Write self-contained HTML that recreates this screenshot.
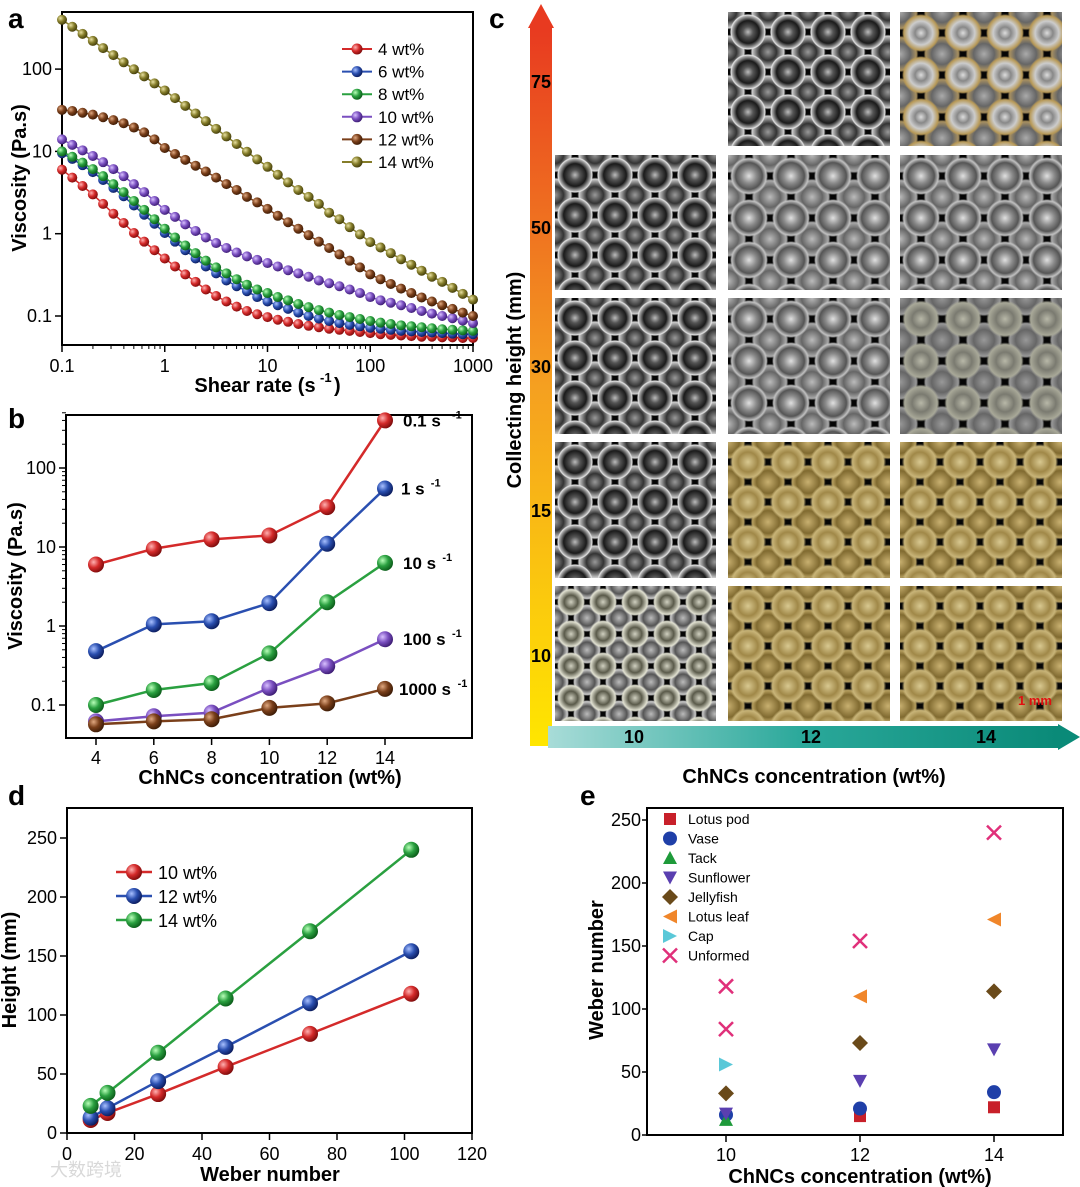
<!DOCTYPE html>
<html><head><meta charset="utf-8">
<style>
html,body{margin:0;padding:0;background:#fff;}
#wrap{position:relative;width:1080px;height:1187px;overflow:hidden;font-family:"Liberation Sans",Arial,sans-serif;}
svg{position:absolute;left:0;top:0;}
.tile{position:absolute;background-color:#050505;}
.silver{background-image:radial-gradient(circle,#bbbbbb 0,#555 18%,#1a1a1a 40%,#aaaaaa 56%,#e4e4e4 60%,transparent 64%),radial-gradient(circle,#999 0,#333 30%,#ccc 56%,transparent 62%);background-size:40px 40px,40px 40px;background-position:0 0,20px 20px;}
.silver2{background-image:radial-gradient(circle,#e0e0e0 0,#8a8a8a 25%,#555 45%,#c0c0c0 58%,transparent 64%),radial-gradient(circle,#bbb 0,#666 35%,#aaa 55%,transparent 62%);background-size:42px 42px,42px 42px;background-position:0 0,21px 21px;}
.silver3{background-image:radial-gradient(circle,#b8b8a8 0,#7a7a70 30%,#a8a898 55%,transparent 63%),radial-gradient(circle,#999 0,#666 35%,#999 55%,transparent 62%);background-size:42px 42px,42px 42px;background-position:0 0,21px 21px;}
.gold{background-image:radial-gradient(circle,#d8c890 0,#a08848 35%,#c8b478 55%,transparent 64%),radial-gradient(circle,#c8b070 0,#806a30 40%,#b8a060 55%,transparent 62%);background-size:40px 40px,40px 40px;background-position:0 0,20px 20px;}
.light{background-image:radial-gradient(circle,#d0d0c0 0,#5a5a4a 30%,#e0e0d0 55%,transparent 62%),radial-gradient(circle,#bbb 0,#555 35%,#ccc 55%,transparent 62%);background-size:32px 32px,32px 32px;background-position:0 0,16px 16px;}
</style></head>
<body>
<div id="wrap">
<svg id="root" width="1080" height="1187" viewBox="0 0 1080 1187">
<defs>
<radialGradient id="g-red" cx="35%" cy="35%" r="70%"><stop offset="0" stop-color="#ffb0b0"/><stop offset="0.5" stop-color="#d42a2a"/><stop offset="1" stop-color="#7a0a0a"/></radialGradient>
<radialGradient id="g-blue" cx="35%" cy="35%" r="70%"><stop offset="0" stop-color="#a8c0ff"/><stop offset="0.5" stop-color="#2a4fb0"/><stop offset="1" stop-color="#0a1a5a"/></radialGradient>
<radialGradient id="g-green" cx="35%" cy="35%" r="70%"><stop offset="0" stop-color="#b8ffb8"/><stop offset="0.5" stop-color="#2aa040"/><stop offset="1" stop-color="#0a5a18"/></radialGradient>
<radialGradient id="g-purple" cx="35%" cy="35%" r="70%"><stop offset="0" stop-color="#d8c0ff"/><stop offset="0.5" stop-color="#7a4fc0"/><stop offset="1" stop-color="#3a1a70"/></radialGradient>
<radialGradient id="g-brown" cx="35%" cy="35%" r="70%"><stop offset="0" stop-color="#e0a880"/><stop offset="0.5" stop-color="#7a3f1a"/><stop offset="1" stop-color="#3a1a05"/></radialGradient>
<radialGradient id="g-olive" cx="35%" cy="35%" r="70%"><stop offset="0" stop-color="#e8e0a0"/><stop offset="0.5" stop-color="#857d2a"/><stop offset="1" stop-color="#403a0a"/></radialGradient>
<linearGradient id="g-varrow" x1="0" y1="1" x2="0" y2="0"><stop offset="0" stop-color="#ffe600"/><stop offset="0.5" stop-color="#f5a020"/><stop offset="1" stop-color="#e83a20"/></linearGradient>
<linearGradient id="g-harrow" x1="0" y1="0" x2="1" y2="0"><stop offset="0" stop-color="#a8dcd8"/><stop offset="0.5" stop-color="#2aa89a"/><stop offset="1" stop-color="#0a8a78"/></linearGradient>
</defs>
</svg>
<div class="tile silver" style="left:728px;top:12px;width:162px;height:134px"></div>
<div class="tile silver2" style="left:900px;top:12px;width:162px;height:134px;background-image:radial-gradient(circle,#ddd 0,#888 20%,#ccc 40%,#b89a58 58%,transparent 64%),radial-gradient(circle,#aaa 0,#666 35%,#a89060 55%,transparent 62%)"></div>
<div class="tile silver" style="left:555px;top:155px;width:161px;height:135px"></div>
<div class="tile silver2" style="left:728px;top:155px;width:162px;height:135px"></div>
<div class="tile silver2" style="left:900px;top:155px;width:162px;height:135px"></div>
<div class="tile silver" style="left:555px;top:298px;width:161px;height:136px"></div>
<div class="tile silver2" style="left:728px;top:298px;width:162px;height:136px"></div>
<div class="tile silver3" style="left:900px;top:298px;width:162px;height:136px"></div>
<div class="tile silver" style="left:555px;top:442px;width:161px;height:136px"></div>
<div class="tile gold" style="left:728px;top:442px;width:162px;height:136px"></div>
<div class="tile gold" style="left:900px;top:442px;width:162px;height:136px"></div>
<div class="tile light" style="left:555px;top:586px;width:161px;height:135px"></div>
<div class="tile gold" style="left:728px;top:586px;width:162px;height:135px"></div>
<div class="tile gold" style="left:900px;top:586px;width:162px;height:135px"></div>
<div style="position:absolute;left:1018px;top:693px;color:#e01010;font-weight:bold;font-size:13px">1 mm</div>
</div>
<script>
const NS='http://www.w3.org/2000/svg';
const root=document.getElementById('root');
function el(tag,attrs,parent){const e=document.createElementNS(NS,tag);for(const k in attrs)e.setAttribute(k,attrs[k]);(parent||root).appendChild(e);return e;}
function txt(s,x,y,size,opts){opts=opts||{};const t=el('text',{x:x,y:y,'font-size':size,'font-family':'"Liberation Sans",Arial,sans-serif','font-weight':opts.bold?'bold':'normal','text-anchor':opts.anchor||'start',fill:opts.fill||'#000'});if(opts.rot)t.setAttribute('transform','rotate(-90 '+x+' '+y+')');t.textContent=s;return t;}

// ---------- Panel a data ----------
const aShear=[];for(let i=0;i<=40;i++)aShear.push(Math.pow(10,-1+i/10));
const aLabels=['4 wt%','6 wt%','8 wt%','10 wt%','12 wt%','14 wt%'];
const a4=[6,4.8,3.8,3.0,2.3,1.75,1.35,1.02,0.8,0.63,0.5,0.4,0.32,0.26,0.21,0.175,0.15,0.13,0.115,0.105,0.097,0.09,0.085,0.08,0.076,0.073,0.07,0.068,0.066,0.064,0.062,0.06,0.059,0.058,0.057,0.056,0.056,0.055,0.055,0.054,0.054];
const a6=[9.5,8.1,6.8,5.6,4.5,3.6,2.85,2.2,1.7,1.32,1.02,0.8,0.63,0.5,0.4,0.33,0.27,0.23,0.2,0.17,0.15,0.135,0.122,0.11,0.1,0.093,0.087,0.082,0.078,0.075,0.072,0.07,0.068,0.066,0.065,0.064,0.063,0.062,0.061,0.06,0.06];
const a8=[10,8.6,7.3,6.1,5.0,4.0,3.2,2.5,1.95,1.5,1.15,0.9,0.72,0.58,0.47,0.39,0.33,0.28,0.24,0.21,0.19,0.17,0.155,0.14,0.128,0.118,0.11,0.103,0.097,0.092,0.087,0.083,0.08,0.077,0.075,0.073,0.071,0.069,0.068,0.067,0.066];
const a10=[14,12,10.3,8.8,7.4,6.1,5.0,4.0,3.2,2.5,1.95,1.6,1.3,1.08,0.9,0.77,0.67,0.59,0.53,0.48,0.44,0.4,0.36,0.33,0.3,0.27,0.25,0.23,0.21,0.19,0.17,0.155,0.145,0.135,0.125,0.115,0.107,0.1,0.094,0.088,0.082];
const a12=[32,31,29.5,28,26,24,22,19.5,17,14,11,9.3,7.9,6.7,5.7,4.8,4.0,3.4,2.8,2.4,2.0,1.65,1.38,1.15,0.96,0.8,0.67,0.56,0.47,0.39,0.32,0.28,0.245,0.215,0.19,0.168,0.15,0.135,0.122,0.11,0.1];
const a14=[398,327,268,220,180,148,121,99.5,81.7,67,55,44.4,35.8,28.9,23.3,18.8,15.2,12.3,9.9,8.0,6.5,5.2,4.2,3.4,2.8,2.3,1.8,1.5,1.2,0.98,0.79,0.68,0.58,0.49,0.42,0.355,0.30,0.26,0.22,0.186,0.158];
const aSeries=[a4,a6,a8,a10,a12,a14];
const colors=['#d42a2a','#2a4fb0','#2aa040','#7a4fc0','#7a3f1a','#857d2a'];
const grads=['g-red','g-blue','g-green','g-purple','g-brown','g-olive'];
const aXTicks=[0.1,1,10,100,1000];
const aXTickLabels=['0.1','1','10','100','1000'];
const aYTicks=[0.1,1,10,100];
const aYTickLabels=['0.1','1','10','100'];

// ---------- Panel b data ----------
const bConc=[4,6,8,10,12,14];
const bLabels=['0.1 s','1 s','10 s','100 s','1000 s'];
const b01=[6,9.5,12.5,14,32,400];
const b1=[0.48,1.05,1.15,1.95,11,55];
const b10=[0.1,0.155,0.19,0.45,2.0,6.3];
const b100=[0.062,0.072,0.08,0.165,0.31,0.68];
const b1000=[0.057,0.062,0.066,0.092,0.105,0.16];
const bSeries=[b01,b1,b10,b100,b1000];
const bColors=['#d42a2a','#2a4fb0','#2aa040','#7a4fc0','#7a3f1a'];
const bGrads=['g-red','g-blue','g-green','g-purple','g-brown'];
const bXTicks=[4,6,8,10,12,14];
const bYTicks=[0.1,1,10,100];
const bYTickLabels=['0.1','1','10','100'];

// ---------- Panel d data ----------
const dWeber=[7,12,27,47,72,102];
const dLabels=['10 wt%','12 wt%','14 wt%'];
const d10=[11,17,33,56,84,118];
const d12=[13,21,44,73,110,154];
const d14=[23,34,68,114,171,240];
const dSeries=[d10,d12,d14];
const dXTicks=[0,20,40,60,80,100,120];
const dYTicks=[0,50,100,150,200,250];

// ---------- Panel e data ----------
const eNames=['Lotus pod','Vase','Tack','Sunflower','Jellyfish','Lotus leaf','Cap','Unformed'];
const eLotusPodX=[12,14], eLotusPodY=[15,22];
const eVaseX=[10,12,14], eVaseY=[16,21,34];
const eTackX=[10], eTackY=[12];
const eSunX=[10,12,14], eSunY=[17,43,68];
const eJellyX=[10,12,14], eJellyY=[33,73,114];
const eLeafX=[12,14], eLeafY=[110,171];
const eCapX=[10], eCapY=[56];
const eUnfX=[10,10,12,14], eUnfY=[84,118,154,240];
const eXTicks=[10,12,14];
const eYTicks=[0,50,100,150,200,250];

// ---------- scales ----------
const xA=v=>62+(Math.log10(v)+1)*102.75, yA=v=>316-(Math.log10(v)+1)*82.3;
const xB=v=>96+(v-4)*28.9, yB=v=>705-(Math.log10(v)+1)*79;
const xD=v=>67+v*3.375, yD=v=>1133-v*1.18;
const xE=v=>726+(v-10)*67, yE=v=>1135-v*1.26;

let e;
[['a',8,28],['b',8,428],['c',489,28],['d',8,805],['e',580,805]].forEach(p=>{
 e=txt(p[0],p[1],p[2],28,{bold:true});
 
 
});

// ===== Panel a =====
e=el('rect',{x:62,y:12,width:411,height:333,fill:'none',stroke:'#000','stroke-width':2});


aXTicks.forEach((t,i)=>{
 e=el('line',{x1:xA(t),x2:xA(t),y1:345,y2:352,stroke:'#000','stroke-width':1.5});
 
 
 e=txt(aXTickLabels[i],xA(t),372,18,{anchor:'middle'});
 
 
 if(i<aXTicks.length-1)for(let m=2;m<10;m++){
  e=el('line',{x1:xA(t*m),x2:xA(t*m),y1:345,y2:349,stroke:'#000','stroke-width':1});
  
  
 }
});
aYTicks.forEach((t,i)=>{
 e=el('line',{x1:55,x2:62,y1:yA(t),y2:yA(t),stroke:'#000','stroke-width':1.5});
 
 
 e=txt(aYTickLabels[i],52,yA(t)+6,18,{anchor:'end'});
 
 
});
e=txt('Viscosity (Pa.s)',26,178,20,{bold:true,anchor:'middle',rot:true});


e=txt('Shear rate (s',255,392,20,{bold:true,anchor:'middle'});


e=txt('-1',320,382,13,{bold:true});


e=txt(')',334,392,20,{bold:true});


aSeries.forEach((s,k)=>{
 const pts=s.map((v,i)=>xA(aShear[i])+','+yA(v)).join(' ');
 e=el('polyline',{points:pts,fill:'none',stroke:colors[k],'stroke-width':1.5});
 
 
 s.forEach((v,i)=>{
  e=el('circle',{cx:xA(aShear[i]),cy:yA(v),r:5,fill:'url(#'+grads[k]+')'});
  
  
 });
 const ly=49+k*22.6;
 e=el('line',{x1:342,x2:372,y1:ly,y2:ly,stroke:colors[k],'stroke-width':2});
 
 
 e=el('circle',{cx:357,cy:ly,r:5.5,fill:'url(#'+grads[k]+')'});
 
 
 e=txt(aLabels[k],378,ly+6,17);
 
 
});

// ===== Panel b =====
e=el('rect',{x:66,y:415,width:406,height:323,fill:'none',stroke:'#000','stroke-width':2});


bXTicks.forEach(t=>{
 e=el('line',{x1:xB(t),x2:xB(t),y1:738,y2:745,stroke:'#000','stroke-width':1.5});
 
 
 e=txt(String(t),xB(t),764,18,{anchor:'middle'});
 
 
});
bYTicks.forEach((t,i)=>{
 e=el('line',{x1:59,x2:66,y1:yB(t),y2:yB(t),stroke:'#000','stroke-width':1.5});
 
 
 e=txt(bYTickLabels[i],56,yB(t)+6,18,{anchor:'end'});
 
 
 for(let m=2;m<10;m++){
  if(t*m>500)break;
  e=el('line',{x1:62,x2:66,y1:yB(t*m),y2:yB(t*m),stroke:'#000','stroke-width':1});
  
  
 }
});
e=txt('Viscosity (Pa.s)',22,576,20,{bold:true,anchor:'middle',rot:true});


e=txt('ChNCs concentration (wt%)',270,784,20,{bold:true,anchor:'middle'});


bSeries.forEach((s,k)=>{
 const pts=s.map((v,i)=>xB(bConc[i])+','+yB(v)).join(' ');
 e=el('polyline',{points:pts,fill:'none',stroke:bColors[k],'stroke-width':2.5});
 
 
 s.forEach((v,i)=>{
  e=el('circle',{cx:xB(bConc[i]),cy:yB(v),r:8,fill:'url(#'+bGrads[k]+')'});
  
  
 });
 const last=s[s.length-1];
 const lx=xB(14)+(k===1?16:k===4?14:18), ly=yB(last)+6;
 e=txt(bLabels[k],lx,ly,17,{bold:true});
 
 
 const w=bLabels[k].length*9.6;
 e=txt('-1',lx+w+1,ly-8,11,{bold:true});
 
 
});

// ===== Panel c arrows/labels =====
e=el('rect',{x:530,y:28,width:22,height:718,fill:'url(#g-varrow)'});


e=el('polygon',{points:'541,4 528,28 554,28',fill:'#e83a20'});


e=el('rect',{x:548,y:726,width:510,height:22,fill:'url(#g-harrow)'});


e=el('polygon',{points:'1058,724 1080,737 1058,750',fill:'#0a8a78'});


[['75',88],['50',234],['30',373],['15',517],['10',662]].forEach(p=>{
 e=txt(p[0],541,p[1],18,{bold:true,anchor:'middle'});
 
 
});
[['10',634],['12',811],['14',986]].forEach(p=>{
 e=txt(p[0],p[1],743,18,{bold:true,anchor:'middle'});
 
 
});
e=txt('Collecting height (mm)',521,380,20,{bold:true,anchor:'middle',rot:true});


e=txt('ChNCs concentration (wt%)',814,783,20,{bold:true,anchor:'middle'});



// ===== Panel d =====
e=el('rect',{x:67,y:808,width:405,height:325,fill:'none',stroke:'#000','stroke-width':2});


dXTicks.forEach(t=>{
 e=el('line',{x1:xD(t),x2:xD(t),y1:1133,y2:1140,stroke:'#000','stroke-width':1.5});
 
 
 e=txt(String(t),xD(t),1160,18,{anchor:'middle'});
 
 
});
dYTicks.forEach(t=>{
 e=el('line',{x1:60,x2:67,y1:yD(t),y2:yD(t),stroke:'#000','stroke-width':1.5});
 
 
 e=txt(String(t),57,yD(t)+6,18,{anchor:'end'});
 
 
});
e=txt('Height (mm)',16,970,20,{bold:true,anchor:'middle',rot:true});


e=txt('Weber number',270,1181,20,{bold:true,anchor:'middle'});


const dColors=['#d42a2a','#2a4fb0','#2aa040'], dGrads=['g-red','g-blue','g-green'];
dSeries.forEach((s,k)=>{
 const pts=s.map((v,i)=>xD(dWeber[i])+','+yD(v)).join(' ');
 e=el('polyline',{points:pts,fill:'none',stroke:dColors[k],'stroke-width':2.5});
 
 
 s.forEach((v,i)=>{
  e=el('circle',{cx:xD(dWeber[i]),cy:yD(v),r:8,fill:'url(#'+dGrads[k]+')'});
  
  
 });
 const ly=872+k*24;
 e=el('line',{x1:116,x2:152,y1:ly,y2:ly,stroke:dColors[k],'stroke-width':2.5});
 
 
 e=el('circle',{cx:134,cy:ly,r:8,fill:'url(#'+dGrads[k]+')'});
 
 
 e=txt(dLabels[k],158,ly+7,18);
 
 
});

// ===== Panel e =====
e=el('rect',{x:647,y:808,width:416,height:327,fill:'none',stroke:'#000','stroke-width':2});


eXTicks.forEach(t=>{
 e=el('line',{x1:xE(t),x2:xE(t),y1:1135,y2:1142,stroke:'#000','stroke-width':1.5});
 
 
 e=txt(String(t),xE(t),1161,18,{anchor:'middle'});
 
 
});
eYTicks.forEach(t=>{
 e=el('line',{x1:642,x2:647,y1:yE(t),y2:yE(t),stroke:'#000','stroke-width':1.5});
 
 
 e=txt(String(t),641,yE(t)+6,18,{anchor:'end'});
 
 
});
e=txt('Weber number',603,970,20,{bold:true,anchor:'middle',rot:true});


e=txt('ChNCs concentration (wt%)',860,1183,20,{bold:true,anchor:'middle'});


function marker(type,x,y,c){
 const s=7;let m;
 if(type==='sq')m=el('rect',{x:x-s+1,y:y-s+1,width:2*s-2,height:2*s-2,fill:c});
 else if(type==='ci')m=el('circle',{cx:x,cy:y,r:s,fill:c});
 else if(type==='up')m=el('polygon',{points:`${x},${y-s} ${x-s},${y+s-1} ${x+s},${y+s-1}`,fill:c});
 else if(type==='dn')m=el('polygon',{points:`${x-s},${y-s+1} ${x+s},${y-s+1} ${x},${y+s}`,fill:c});
 else if(type==='di')m=el('polygon',{points:`${x},${y-s-1} ${x+s+1},${y} ${x},${y+s+1} ${x-s-1},${y}`,fill:c});
 else if(type==='lt')m=el('polygon',{points:`${x-s},${y} ${x+s},${y-s} ${x+s},${y+s}`,fill:c});
 else if(type==='rt')m=el('polygon',{points:`${x+s},${y} ${x-s},${y-s} ${x-s},${y+s}`,fill:c});
 else m=el('path',{d:`M${x-s},${y-s}L${x+s},${y+s}M${x+s},${y-s}L${x-s},${y+s}`,stroke:c,'stroke-width':2.5});
 return m;
}
const eGroups=[
 ['sq','#c8202a',eLotusPodX,eLotusPodY],['ci','#1f3fa8',eVaseX,eVaseY],['up','#1e9a3a',eTackX,eTackY],
 ['dn','#5a3fb0',eSunX,eSunY],['di','#6a4a1a',eJellyX,eJellyY],['lt','#f0862a',eLeafX,eLeafY],
 ['rt','#5ac8d8',eCapX,eCapY],['x','#e0307a',eUnfX,eUnfY]];
eGroups.forEach((g,k)=>{
 g[2].forEach((xv,i)=>{
  e=marker(g[0],xE(xv),yE(g[3][i]),g[1]);
  
  
 });
 const ly=819+k*19.5;
 e=marker(g[0],670,ly,g[1]);
 
 
 e=txt(eNames[k],688,ly+5,14);
 
 
});

e=txt('大数跨境',50,1176,18,{fill:'#d8d8d8'});
e.setAttribute('font-family','"Liberation Sans","Noto Sans CJK SC",sans-serif');


</script>
</body></html>
